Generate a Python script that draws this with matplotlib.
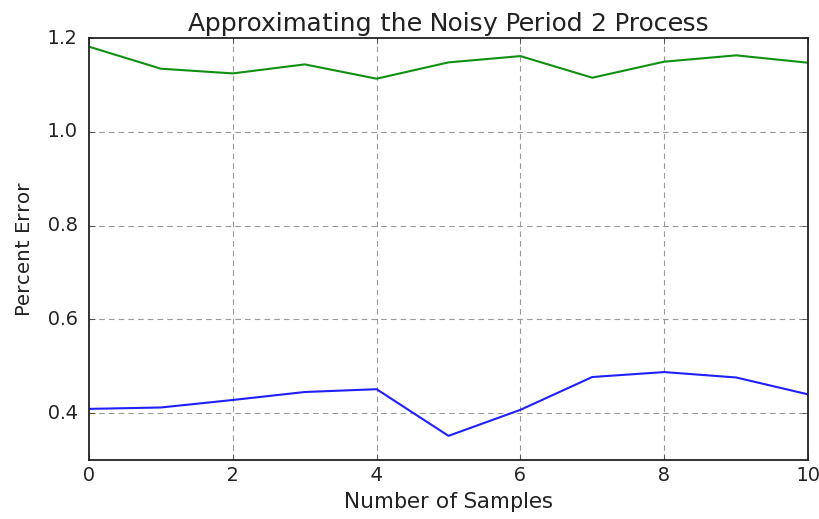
import numpy as np
import matplotlib.pyplot as plt

plt.style.use('classic')
plt.rcParams['text.hinting_factor'] = 1
plt.rcParams['text.hinting'] = 'force_autohint'

samples = np.arange(0, 11)
err_low = [0.409, 0.412, 0.428, 0.445, 0.451, 0.3515, 0.407, 0.477, 0.4875, 0.476, 0.440]
err_high = [1.1815, 1.1345, 1.1245, 1.1437, 1.1132, 1.148, 1.1614, 1.1153, 1.1495, 1.163, 1.1473]

fig = plt.figure(figsize=(8.19, 5.19), dpi=100, facecolor='white')
ax = fig.add_axes([89 / 819, 1 - 460 / 519, 719 / 819, 422 / 519])
ax.set_axisbelow(True)

ax.plot(samples, err_low, color='#2020ff', lw=1.5)
ax.plot(samples, err_high, color='#109010', lw=1.5)

ax.set_xlim(0, 10)
ax.set_ylim(0.3, 1.2)
ax.set_yticks([0.4, 0.6, 0.8, 1.0, 1.2])
ax.grid(True, color='0.6', linestyle=(0, (4, 3)), lw=0.8)
# gridlines on the frame edges just double the spines
for gl in (ax.xaxis.get_gridlines()[0], ax.xaxis.get_gridlines()[-1],
           ax.yaxis.get_gridlines()[-1]):
    gl.set_visible(False)

ax.tick_params(labelsize=14, colors='#333333', labelcolor='#222222')
ax.tick_params(axis='y', pad=8)
for s in ax.spines.values():
    s.set_color('#222222')
    s.set_linewidth(1.3)

ax.set_title('Approximating the Noisy Period 2 Process', fontsize=18, color='#222222')
ax.set_xlabel('Number of Samples', fontsize=15, color='#222222', labelpad=5)
ax.set_ylabel('Percent Error', fontsize=14.5, color='#222222', labelpad=9)

fig.savefig('out.png', dpi=100, facecolor='white')
